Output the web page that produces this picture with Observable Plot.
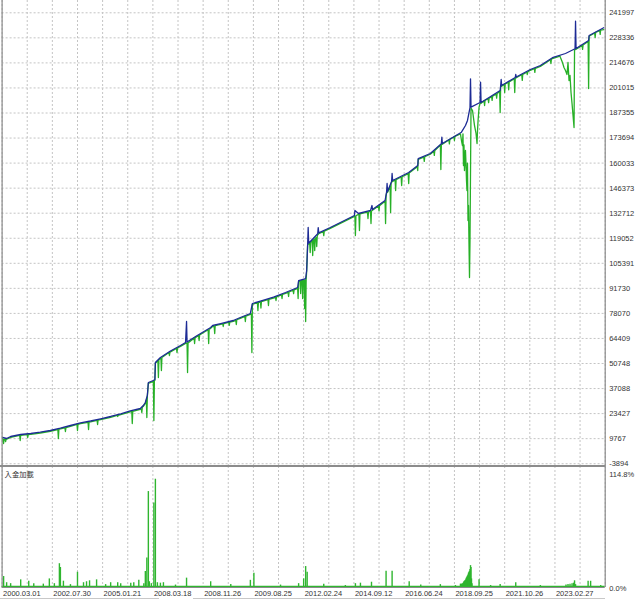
<!DOCTYPE html>
<html><head><meta charset="utf-8">
<script src="https://cdn.jsdelivr.net/npm/d3@7"></script>
<script src="https://cdn.jsdelivr.net/npm/@observablehq/plot@0.6"></script>
<style>
html,body{margin:0;padding:0;background:#fff;}
#wrap{position:relative;width:638px;height:600px;overflow:hidden;background:#fff;}
#main{position:absolute;left:0;top:0;}
#sub{position:absolute;left:0;top:466px;}
#sep{position:absolute;left:0;top:465px;width:605px;height:2px;background:#8c8c8c;}
#sb1{position:absolute;left:0;top:598px;width:159px;height:1px;background:#c8c8c8;}
#sb2{position:absolute;left:193px;top:598px;width:412px;height:1px;background:#c8c8c8;}
</style></head><body>
<div id="wrap"><div id="main"></div><div id="sub"></div><div id="sep"></div><div id="sb1"></div><div id="sb2"></div></div>
<script>
// ---- data (x = deal index along the tester axis) ----
const yTicks = [-3894, 9767, 23427, 37088, 50748, 64409, 78070, 91730, 105391, 119052, 132712, 146373, 160033, 173694, 187355, 201015, 214676, 228336, 241997];
const dateTicks = [0, 100, 200, 300, 400, 500, 600, 700, 800, 900, 1000, 1100];
const dateLabels = ["2000.03.01","2002.07.30","2005.01.21","2008.03.18","2008.11.26","2009.08.25","2012.02.24","2014.09.12","2016.06.24","2018.09.25","2021.10.26","2023.02.27"];
const gridX = [0,50,100,150,200,250,300,350,400,450,500,550,600,650,700,750,800,850,900,950,1000,1050,1100,1150,1200];

// balance: [deal index, balance]
const balancePts = [[1,10400],[9,9850],[17,10940],[37,12030],[57,12580],[76,13290],[96,14210],[116,15470],[136,16940],[156,18410],[176,19390],[196,20590],[216,21850],[236,23320],[255,24850],[275,26210],[281,27850],[285,29480],[289,33300],[291,40390],[301,41480],[304,42000],[305,51300],[315,54020],[335,57570],[355,60570],[365,62200],[367,73650],[368,62480],[385,65470],[405,68750],[415,70380],[419,71470],[435,72560],[460,74200],[474,75840],[494,78020],[498,83470],[514,84830],[540,86910],[564,89470],[588,92200],[590,96010],[604,97100],[606,101470],[608,116190],[609,124920],[610,116350],[628,121500],[629,124900],[630,122000],[653,124920],[673,127640],[701,131460],[702,134190],[709,132550],[733,134190],[736,136910],[737,134730],[762,139640],[765,144160],[766,148910],[767,144550],[775,150000],[776,154360],[777,150550],[793,152730],[809,154910],[827,158700],[828,162500],[852,165270],[874,170560],[875,174160],[876,170720],[914,176890],[922,180540],[926,183270],[931,190350],[932,206000],[933,190520],[951,193080],[952,204150],[953,193080],[972,196350],[991,199630],[992,202350],[993,205620],[994,202350],[1021,206720],[1022,208350],[1023,206990],[1051,211080],[1071,213260],[1095,217500],[1121,219800],[1140,222370],[1141,237420],[1142,222530],[1167,226890],[1168,229620],[1197,233820]];

// equity: [deal index, equity]
const equityPts = [[1,9900],[2,8000],[3,7120],[4,9500],[6,9700],[7,8210],[8,9500],[9,9500],[17,10500],[35,11600],[36,8760],[37,11600],[50,12000],[51,10400],[52,12000],[57,12150],[76,12850],[96,13800],[111,14700],[112,9850],[113,14800],[116,15050],[125,15650],[126,13670],[127,15750],[136,16500],[149,17500],[150,14210],[151,17600],[156,18000],[171,18700],[172,14760],[173,18800],[176,18950],[189,19750],[190,17490],[191,19850],[196,20150],[216,21400],[229,22400],[230,21850],[231,22500],[236,22900],[255,24400],[258,24600],[259,18030],[260,24700],[275,25800],[277,26000],[278,24030],[279,26900],[281,27400],[285,29050],[287,30900],[288,21300],[289,32900],[291,39950],[301,41000],[302,19670],[303,41300],[304,41500],[305,50850],[310,52300],[311,43120],[312,52800],[315,53550],[316,53700],[317,46930],[318,54000],[332,56700],[333,55100],[334,56950],[335,57100],[347,58950],[348,56750],[349,59250],[355,60100],[365,61750],[368,62000],[369,45840],[370,62000],[382,64500],[383,61660],[384,64850],[385,65000],[391,65950],[392,63300],[393,66300],[405,68300],[410,69100],[411,61660],[412,69400],[415,69900],[419,71000],[422,70800],[423,67110],[424,71400],[435,72100],[439,72400],[440,70930],[441,72550],[451,73200],[452,71500],[453,73350],[460,73750],[465,74250],[466,72020],[467,74600],[474,75400],[483,76400],[484,73650],[485,76600],[494,77550],[496,77800],[497,56750],[498,83000],[508,83900],[509,79650],[510,84000],[514,84400],[515,81000],[516,84500],[529,85600],[530,82380],[531,85750],[540,86450],[544,86850],[545,85100],[546,87050],[556,88200],[557,86200],[558,88400],[564,89000],[569,89550],[570,87300],[571,89750],[579,90700],[580,88900],[581,90900],[588,91750],[589,86200],[590,95550],[593,95750],[594,88900],[595,95900],[597,96000],[598,86200],[599,96100],[601,96300],[602,80740],[603,96400],[604,73650],[605,96700],[606,101000],[608,115700],[610,115900],[612,116500],[613,111280],[614,116800],[617,117700],[618,109650],[619,118000],[621,118600],[622,112370],[623,118900],[625,119500],[626,114550],[627,119900],[628,121000],[630,121550],[639,122650],[640,120500],[641,122900],[653,124450],[673,127200],[701,131000],[702,131100],[703,120550],[704,131300],[709,132100],[710,132150],[711,123280],[712,132300],[727,133300],[728,129800],[729,133450],[733,133750],[734,127100],[735,133900],[737,134300],[749,136600],[750,134000],[751,136850],[762,139200],[763,127100],[764,142000],[765,143700],[767,144100],[772,147500],[773,133100],[774,149000],[775,149550],[777,150100],[782,150750],[783,145100],[784,151000],[793,152300],[794,152400],[795,147820],[796,152600],[808,154300],[809,148900],[810,154600],[826,158000],[827,156000],[828,162050],[839,163300],[840,161000],[841,163500],[852,164850],[859,166500],[860,164200],[861,166900],[872,169900],[873,156540],[874,170150],[876,170300],[889,172700],[890,170500],[891,173000],[899,174300],[900,172360],[901,174600],[912,176000],[914,172360],[916,169630],[917,176000],[918,158730],[919,170000],[920,156000],[922,166900],[923,160000],[924,150550],[925,145090],[926,160000],[927,128730],[928,136910],[929,116200],[930,97650],[931,117830],[933,190100],[936,188700],[940,180500],[943,176200],[945,170720],[946,178000],[947,183000],[949,190500],[951,192650],[953,192650],[959,194000],[960,191450],[961,194300],[967,195100],[968,193000],[969,195350],[974,196300],[975,194200],[976,196550],[983,197800],[984,195500],[985,198000],[990,199000],[991,187630],[992,201900],[994,201900],[999,203000],[1000,198500],[1001,203200],[1007,204000],[1008,200000],[1009,204300],[1019,206000],[1020,198540],[1021,206300],[1023,206550],[1034,208200],[1035,205100],[1036,208450],[1044,209600],[1045,208350],[1046,209800],[1051,210650],[1059,211500],[1060,209500],[1061,211700],[1071,212800],[1091,216400],[1092,214350],[1093,216700],[1095,217050],[1110,218350],[1111,217600],[1115,214900],[1118,212170],[1121,210530],[1124,208350],[1126,214900],[1128,205080],[1130,207800],[1132,198540],[1134,192540],[1136,185990],[1138,179450],[1139,221800],[1140,221950],[1142,222100],[1154,224100],[1155,222000],[1156,224400],[1166,226300],[1167,200700],[1168,229200],[1179,231000],[1180,228500],[1181,231300],[1189,232300],[1190,230200],[1191,232600],[1197,232800]];

// deposit load (%): [deal index, load]
const loadPts = [[3,10.5],[9,4],[17,3],[37,7],[53,5.6],[63,3],[82,2.5],[94,8],[104,3],[114,24],[116,20],[122,5.6],[136,2],[150,15],[162,4],[168,5],[174,6],[188,7],[206,2],[216,4],[230,4],[236,3],[256,3.5],[262,4],[272,6.5],[282,3],[285,15.8],[288,30],[291,100],[293,5],[297,3],[302,88],[305,113],[309,4],[315,3.5],[321,4],[345,1.5],[367,8.8],[415,5],[455,2],[494,6.5],[501,14],[554,1.5],[590,3],[600,8],[604,21],[607,15],[640,2.5],[683,1],[703,3],[713,3.5],[735,4.5],[764,16],[776,16],[810,5],[833,1.5],[872,2],[902,1],[912,2.5],[914,2.5],[916,3],[918,4],[919,5],[920,5.5],[921,6],[922,6.5],[923,8],[924,9],[925,10],[926,11],[927,12],[928,14],[929,15],[930,16],[931,18],[932,22],[933,20],[934,8],[935,3],[949,7],[972,1],[991,2],[1022,4],[1071,1],[1122,1.5],[1126,2],[1130,2.5],[1134,3],[1137,3.5],[1139,6],[1141,2],[1166,5.5],[1171,5.5],[1191,1]];
const loadTitle = "入金加載";
const loadMax = 114.8;

// ---- drawing ----
const FONT = '"Liberation Sans", Arial, sans-serif';
const gridStyle = {stroke: "#c4c4c4", strokeDasharray: "2,2", strokeWidth: 1};
const frameColor = "#8a8a8a";

const balData = balancePts.map(([x, y]) => ({x, y}));
const eqData = equityPts.map(([x, y]) => ({x, y}));
const loadData = loadPts.map(([x, v]) => ({x, v}));

const main = Plot.plot({
  width: 638, height: 466,
  marginLeft: 1.6, marginRight: 33.3, marginTop: 0, marginBottom: 0,
  x: {domain: [0, 1200], axis: null},
  y: {domain: [-5419, 248705], axis: null},
  style: {fontFamily: FONT, fontSize: "7.5px", background: "transparent", overflow: "visible", color: "#333"},
  marks: [
    Plot.ruleX(gridX, gridStyle),
    Plot.ruleY(yTicks, gridStyle),
    Plot.line(eqData, {x: "x", y: "y", stroke: "#27b027", strokeWidth: 1.3}),
    Plot.line(balData, {x: "x", y: "y", stroke: "#1d2b95", strokeWidth: 1.3}),
    Plot.ruleX([0], {stroke: frameColor, strokeWidth: 1.2}),
    Plot.ruleX([1200], {stroke: frameColor, strokeWidth: 1.2}),
    Plot.axisY({anchor: "right", label: null, ticks: yTicks, tickSize: 0, tickPadding: 4, tickFormat: d => String(d), fill: "#333", fontSize: 7.5})
  ]
});
document.getElementById("main").appendChild(main);

const sub = Plot.plot({
  width: 638, height: 134,
  marginLeft: 1.6, marginRight: 33.3, marginTop: 0, marginBottom: 13,
  x: {domain: [0, 1200], axis: null},
  y: {domain: [-1.053, 126.39], axis: null},
  style: {fontFamily: FONT, fontSize: "7.5px", background: "white", overflow: "visible", color: "#333"},
  marks: [
    Plot.ruleX(gridX, gridStyle),
    Plot.ruleY([0], {stroke: "#2fb52f", strokeWidth: 1.5}),
    Plot.ruleX(loadData, {x: "x", y1: 0, y2: "v", stroke: "#2fb52f", strokeWidth: 1.4}),
    Plot.ruleX([0], {stroke: frameColor, strokeWidth: 1.2}),
    Plot.ruleX([1200], {stroke: frameColor, strokeWidth: 1.2}),
    Plot.ruleY([-1.053], {stroke: frameColor, strokeWidth: 1}),
    Plot.text([loadTitle], {frameAnchor: "top-left", text: d => d, dx: 2.5, dy: 5, textAnchor: "start", lineAnchor: "top", fontFamily: '"Noto Sans CJK TC", "Noto Sans CJK JP", sans-serif', fontSize: 7.3, fill: "#333"}),
    Plot.text([{v: loadMax, t: loadMax.toFixed(1) + "%"}], {frameAnchor: "right", y: "v", text: "t", textAnchor: "start", dx: 4, dy: -3, fill: "#333", fontSize: 7.5}),
    Plot.text([{v: 0, t: "0.0%"}], {frameAnchor: "right", y: "v", text: "t", textAnchor: "start", dx: 4, dy: 1.7, fill: "#333", fontSize: 7.5}),
    Plot.axisX({anchor: "bottom", label: null, ticks: dateTicks, tickFormat: d => dateLabels[dateTicks.indexOf(d)], tickSize: 0, tickPadding: 3, textAnchor: "start", dx: 1, fill: "#333", fontSize: 7.5})
  ]
});
document.getElementById("sub").appendChild(sub);
</script>
</body></html>
